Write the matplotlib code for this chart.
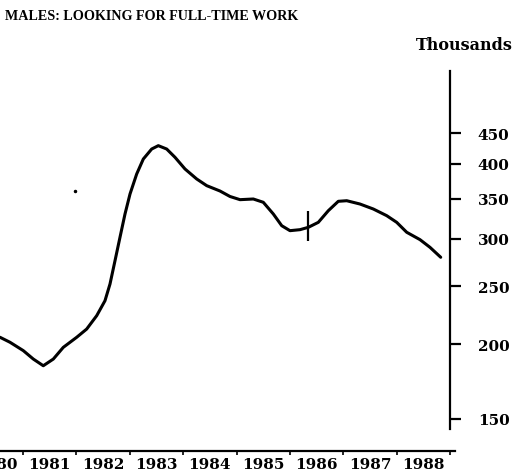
import matplotlib
matplotlib.use("Agg")
import matplotlib.pyplot as plt
from matplotlib import font_manager
from matplotlib.ticker import FixedLocator, NullLocator, FixedFormatter
import numpy as np

years = [1980.569, 1980.756, 1981.006, 1981.193, 1981.380, 1981.568, 1981.755, 1982.006,
         1982.193, 1982.381, 1982.536, 1982.630, 1982.724, 1982.817, 1982.911, 1983.005,
         1983.130, 1983.254, 1983.411, 1983.535, 1983.692, 1983.848, 1984.035, 1984.254,
         1984.442, 1984.691, 1984.878, 1985.066, 1985.315, 1985.502, 1985.690, 1985.847,
         1986.002, 1986.190, 1986.345, 1986.533, 1986.720, 1986.907, 1987.065, 1987.314,
         1987.563, 1987.814, 1988.001, 1988.189, 1988.438, 1988.625, 1988.826]
males = [205.4, 201.5, 195.1, 188.9, 184.1, 188.9, 197.6, 205.4,
         212.0, 223.2, 236.4, 252.1, 275.8, 301.7, 330.0, 356.4,
         384.9, 407.7, 423.7, 429.2, 423.7, 410.4, 392.4, 377.6,
         368.0, 360.5, 353.0, 348.7, 349.6, 345.2, 330.0, 315.5,
         309.5, 310.7, 313.5, 319.6, 334.2, 346.5, 347.3, 342.9,
         336.4, 327.9, 319.6, 307.6, 299.0, 290.3, 279.4]
marker_year = [1986.345]
marker_value = [315]
speck_year = [1981.974]
speck_value = [360.5]
ytick_values = [150, 200, 250, 300, 350, 400, 450]
year_labels = ["1980", "1981", "1982", "1983", "1984", "1985", "1986", "1987", "1988"]

W, H = 515, 477
fig = plt.figure(figsize=(W / 100, H / 100), dpi=100)
fam = "DejaVu Serif"

installed = {f.name for f in font_manager.fontManager.ttflist}
if "Liberation Sans Narrow" in installed:
    title_fam, title_size = "Liberation Sans Narrow", 13
else:
    title_fam, title_size = "Liberation Serif", 10.2

left_px, right_px, top_px, bot_px = -60, 455, 72, 452
ax = fig.add_axes([left_px / W, 1 - bot_px / H, (right_px - left_px) / W, (bot_px - top_px) / H])
ax.patch.set_alpha(0)

px_per_year = 53.375
x0 = 1981 + (left_px - 23) / px_per_year
x1 = 1981 + (right_px - 23) / px_per_year
ax.set_xlim(x0, x1)
ax.set_yscale("log")
ymin = 150 * np.exp((420 - bot_px) / 260)
ymax = 150 * np.exp((420 - top_px) / 260)
ax.set_ylim(ymin, ymax)

ax.plot(years, males, color="black", lw=2.2, solid_capstyle="round", solid_joinstyle="round",
        clip_on=False)
ax.plot(marker_year, marker_value, marker="|", markersize=22, mew=1.6, color="black", ls="none")
ax.plot(speck_year, speck_value, marker="o", markersize=1.5, color="black", ls="none")

for s in ["left", "top"]:
    ax.spines[s].set_visible(False)
ax.spines["right"].set_position(("data", 1989.0))
ax.spines["right"].set_bounds(150 * np.exp(-10 / 260), ymax)
ax.spines["right"].set_linewidth(1.6)
ax.spines["bottom"].set_linewidth(1.6)

ax.yaxis.set_ticks_position("right")
ax.yaxis.set_major_locator(FixedLocator(ytick_values))
ax.yaxis.set_major_formatter(FixedFormatter([str(v) for v in ytick_values]))
ax.yaxis.set_minor_locator(NullLocator())
ax.tick_params(axis="y", which="major", direction="out", length=8, width=1.6, pad=12,
               labelsize=11)

ax.xaxis.set_major_locator(FixedLocator(list(range(1980, 1990))))
ax.xaxis.set_minor_locator(FixedLocator([int(l) + 0.5 for l in year_labels]))
ax.xaxis.set_major_formatter(FixedFormatter([""] * 10))
ax.xaxis.set_minor_formatter(FixedFormatter(year_labels))
ax.tick_params(axis="x", which="major", direction="out", length=3, width=1.2)
ax.tick_params(axis="x", which="minor", length=0, pad=4, labelsize=11)

for lab in ax.get_xticklabels(minor=True) + ax.get_yticklabels():
    lab.set_family(fam)
    lab.set_fontweight("bold")

fig.text(5 / W, 1 - 17 / H, "MALES: LOOKING FOR FULL-TIME WORK", family=title_fam,
         fontweight="bold", fontsize=title_size, ha="left", va="center")
fig.text(513 / W, 1 - 46 / H, "Thousands", family=fam, fontweight="bold",
         fontsize=11.5, ha="right", va="center")

fig.savefig("out.png", dpi=100)
